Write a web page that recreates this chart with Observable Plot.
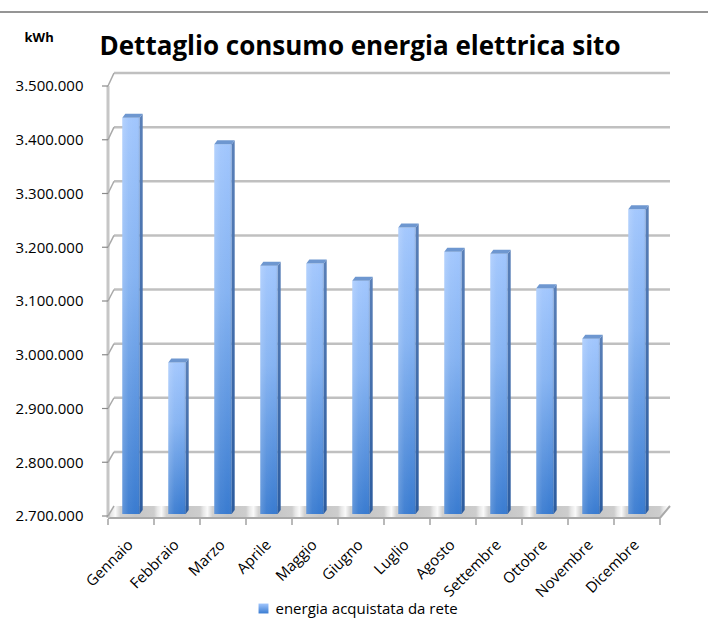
<!DOCTYPE html>
<html>
<head>
<meta charset="utf-8">
<script src="https://cdn.jsdelivr.net/npm/d3@7"></script>
<script src="https://cdn.jsdelivr.net/npm/@observablehq/plot@0.6"></script>
<style>
  body { margin: 0; background: #fff; }
  #chart { position: relative; width: 708px; height: 631px; font-family: "Open Sans", sans-serif; }
  #chart .rule { position: absolute; left: 0; top: 11px; width: 708px; border-top: 2px solid #959595; }
  #chart svg { position: absolute; left: 0; top: 0; }
</style>
</head>
<body>
<div id="chart"><div class="rule"></div></div>
<script>
// Monthly electricity bought from the grid (kWh)
const months = ["Gennaio", "Febbraio", "Marzo", "Aprile", "Maggio", "Giugno",
                "Luglio", "Agosto", "Settembre", "Ottobre", "Novembre", "Dicembre"];
const energy = [3437000, 2982000, 3388000, 3162000, 3166000, 3134000,
                3233000, 3188000, 3184000, 3120000, 3026000, 3267000];
const yTicks = [2700000, 2800000, 2900000, 3000000, 3100000, 3200000, 3300000, 3400000, 3500000];
const yTickLabels = ["2.700.000", "2.800.000", "2.900.000", "3.000.000", "3.100.000",
                     "3.200.000", "3.300.000", "3.400.000", "3.500.000"];
const chartTitle = "Dettaglio consumo energia elettrica sito";
const unitLabel = "kWh";
const seriesLabel = "energia acquistata da rete";

const baseline = yTicks[0];
const rows = months.map((month, i) => ({month, value: energy[i]}));

// pseudo-3D geometry (pixels)
const WALL_LEFT = 6, WALL_RIGHT = 10;   // horizontal depth of the back wall
const BAR_INSET = 14.3;                 // gap between bar front face and band edge
const SIDE = 3, CAP = 4;                // bar depth: side face width, top face height
const LIFT = 2;                         // bars stand slightly behind the floor's front edge
const wallDy = (py, y) => -10 - 3 * (y(baseline) - py) / (y(baseline) - y(yTicks.at(-1)));

function gradients() {
  const defs = d3.create("svg:defs");
  const lin = (id, x2, y2, stops) => {
    const g = defs.append("linearGradient").attr("id", id)
      .attr("x1", 0).attr("y1", 0).attr("x2", x2).attr("y2", y2);
    for (const [o, c, a = 1] of stops)
      g.append("stop").attr("offset", o).attr("stop-color", c).attr("stop-opacity", a);
  };
  lin("barFront", 0, 1, [["0%", "#a1c6fd"], ["40%", "#85b3f2"], ["100%", "#397bd0"]]);
  lin("barSheen", 1, 0, [["0%", "#ffffff", 0.2], ["35%", "#ffffff", 0.05], ["80%", "#ffffff", 0], ["100%", "#000000", 0.08]]);
  lin("barSide", 0, 1, [["0%", "#5a80b8"], ["100%", "#2c5c9f"]]);
  lin("swatch", 0, 1, [["0%", "#a1c6fd"], ["100%", "#3a7cd1"]]);
  return defs.node();
}

function floor(index, {x, y}) {
  const bw = x.bandwidth();
  const x0 = x(months[0]), x1 = x(months.at(-1)) + bw;
  const yf = y(baseline) + 1;
  const yb = y(baseline) + wallDy(y(baseline), y);
  const g = d3.create("svg:g");
  const grad = g.append("defs").append("linearGradient").attr("id", "floorShine")
    .attr("gradientUnits", "userSpaceOnUse").attr("spreadMethod", "repeat")
    .attr("x1", x0).attr("x2", x0 + bw).attr("y1", 0).attr("y2", 0);
  for (const [o, c] of [[0, "#cdcdcd"], [0.07, "#e6e6e6"], [0.16, "#fafafa"], [0.27, "#d2d2d2"], [0.6, "#c6c6c6"], [1, "#cdcdcd"]])
    grad.append("stop").attr("offset", o).attr("stop-color", c);
  g.append("path")
    .attr("d", `M${x0},${yf}L${x1},${yf}L${x1 + WALL_RIGHT},${yb}L${x0 + WALL_LEFT},${yb}Z`)
    .attr("fill", "url(#floorShine)");
  g.append("path")
    .attr("d", `M${x0},${yf + 1}L${x1},${yf + 1}L${x1 + WALL_RIGHT},${yb}`)
    .attr("fill", "none").attr("stroke", "#a9a9a9").attr("stroke-width", 2);
  return g.node();
}

function backWall(index, {x, y}) {
  const bw = x.bandwidth();
  const x0 = x(months[0]), x1 = x(months.at(-1)) + bw;
  const g = d3.create("svg:g").attr("fill", "none");
  g.append("line").attr("x1", x0).attr("x2", x0)
    .attr("y1", y(yTicks.at(-1))).attr("y2", y(baseline) + 2)
    .attr("stroke", "#c6c6c6").attr("stroke-width", 3);
  for (const t of yTicks) {
    const yf = y(t), yb = yf + wallDy(yf, y);
    if (t !== baseline)
      g.append("line").attr("x1", x0 + WALL_LEFT).attr("x2", x1 + WALL_RIGHT)
        .attr("y1", yb).attr("y2", yb)
        .attr("stroke", "#c0c0c0").attr("stroke-width", 2.5);
    g.append("path").attr("d", `M${x0},${yf}L${x0 + WALL_LEFT},${yb}`)
      .attr("stroke", "#a8a8a8").attr("stroke-width", 1.5);
    g.append("path").attr("d", `M${x0 - 6},${yf}H${x0}`)
      .attr("stroke", "#8a8a8a").attr("stroke-width", 1.2);
  }
  return g.node();
}

function barDepth(index, {x, y}) {
  const bw = x.bandwidth();
  const g = d3.create("svg:g");
  for (const d of rows) {
    const xl = x(d.month) + BAR_INSET, xr = x(d.month) + bw - BAR_INSET;
    const yt = y(d.value) - LIFT, yb = y(baseline) - LIFT;
    g.append("path")
      .attr("d", `M${xr},${yt}L${xr + SIDE},${yt - CAP}L${xr + SIDE},${yb - CAP}L${xr},${yb}Z`)
      .attr("fill", "url(#barSide)");
    g.append("path")
      .attr("d", `M${xl},${yt}L${xl + SIDE},${yt - CAP}L${xr + SIDE},${yt - CAP}L${xr},${yt}Z`)
      .attr("fill", "#6e97d0");
  }
  return g.node();
}

function categoryTicks(index, {x, y}) {
  const bw = x.bandwidth();
  const edges = months.map((m) => x(m)).concat(x(months.at(-1)) + bw);
  const g = d3.create("svg:g").attr("stroke", "#8a8a8a").attr("stroke-width", 1.2);
  for (const e of edges)
    g.append("line").attr("x1", e).attr("x2", e).attr("y1", y(baseline) + 3).attr("y2", y(baseline) + 9);
  return g.node();
}

const chart = Plot.plot({
  width: 708,
  height: 631,
  marginLeft: 104,
  marginRight: 45,
  marginTop: 86,
  marginBottom: 115,
  style: {fontFamily: "'Open Sans', sans-serif", color: "#000", background: "transparent"},
  x: {type: "band", domain: months, padding: 0, label: null},
  y: {domain: [baseline, yTicks.at(-1)], label: null},
  marks: [
    gradients,
    floor,
    backWall,
    Plot.barY(rows, {x: "month", y1: baseline, y2: "value", dy: -LIFT,
      insetLeft: BAR_INSET, insetRight: BAR_INSET, fill: "url(#barFront)"}),
    Plot.barY(rows, {x: "month", y1: baseline, y2: "value", dy: -LIFT,
      insetLeft: BAR_INSET, insetRight: BAR_INSET, fill: "url(#barSheen)"}),
    barDepth,
    categoryTicks,
    Plot.axisY({ticks: yTicks, tickFormat: (d) => yTickLabels[yTicks.indexOf(d)],
      tickSize: 0, tickPadding: 21, fontSize: 15}),
    Plot.axisX({tickSize: 0, tickPadding: 26, tickRotate: -45, fontSize: 15, dx: -1}),
    Plot.text([chartTitle], {frameAnchor: "top-left", textAnchor: "start", lineAnchor: "bottom",
      dx: -5, dy: -32, fontSize: 26, fontWeight: "bold"}),
    Plot.text([unitLabel], {frameAnchor: "top-left", textAnchor: "start", lineAnchor: "bottom",
      dx: -80, dy: -45, fontSize: 13, fontWeight: "bold"}),
    Plot.dot([seriesLabel], {frameAnchor: "bottom-left", symbol: "square", r: 5.6,
      dx: 159, dy: 92, fill: "url(#swatch)", stroke: "none"}),
    Plot.text([seriesLabel], {frameAnchor: "bottom-left", textAnchor: "start", lineAnchor: "bottom",
      dx: 171, dy: 97, fontSize: 15})
  ]
});

document.getElementById("chart").appendChild(chart);
</script>
</body>
</html>
